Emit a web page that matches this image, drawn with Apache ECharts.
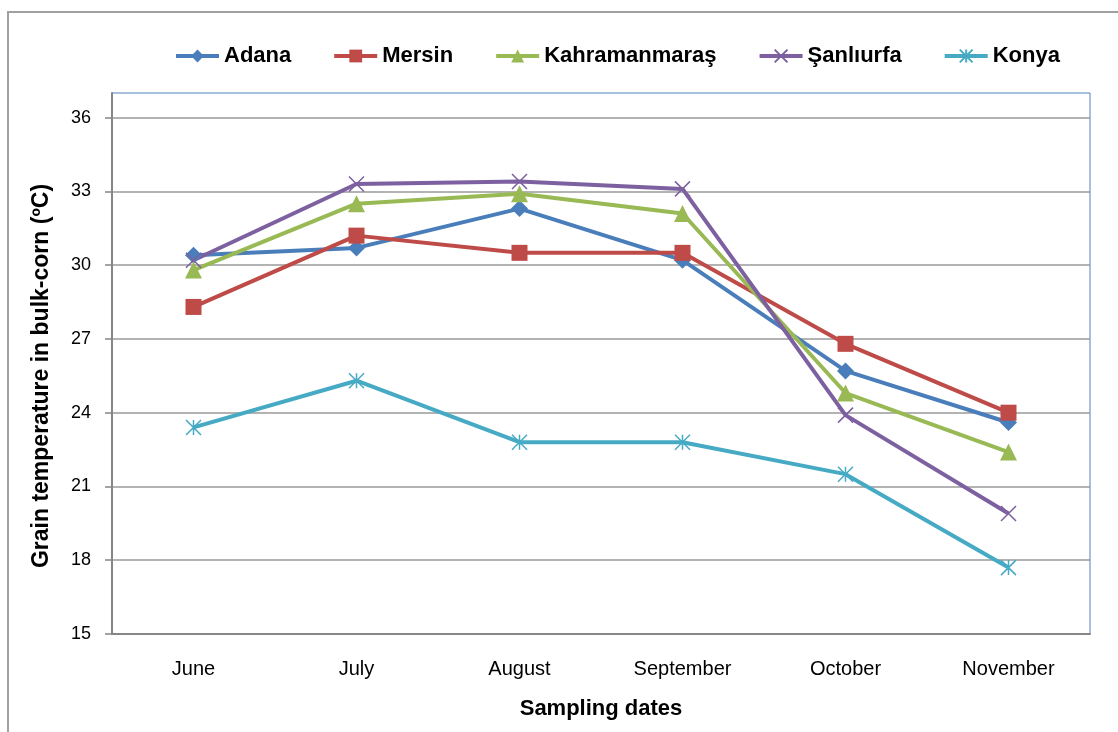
<!DOCTYPE html>
<html>
<head>
<meta charset="utf-8">
<script src="https://cdn.jsdelivr.net/npm/echarts@6/dist/echarts.min.js"></script>
<style>
  html, body { margin: 0; padding: 0; background: #fff; }
  #chart { width: 1118px; height: 732px; }
</style>
</head>
<body>
<div id="chart"></div>
<script>
// sampling months
var months = ['June', 'July', 'August', 'September', 'October', 'November'];

// grain temperature (ºC)
var adana = [30.4, 30.7, 32.3, 30.2, 25.7, 23.6];
var mersin = [28.3, 31.2, 30.5, 30.5, 26.8, 24.0];
var kahramanmaras = [29.8, 32.5, 32.9, 32.1, 24.8, 22.4];
var sanliurfa = [30.2, 33.3, 33.4, 33.1, 23.9, 19.9];
var konya = [23.4, 25.3, 22.8, 22.8, 21.5, 17.7];

var yTicks = [15, 18, 21, 24, 27, 30, 33, 36];

var chartDom = document.getElementById('chart');
var myChart = echarts.init(chartDom);

var xMark = 'path://M0,0L10,10M10,0L0,10';
var starMark = 'path://M0,0L10,10M10,0L0,10M5,0L5,10';

function lineSeries(name, data, color, symbol, size, border) {
  return {
    name: name,
    type: 'line',
    data: data,
    symbol: symbol,
    symbolSize: size,
    lineStyle: { color: color, width: 4 },
    itemStyle: { color: color, borderColor: color, borderWidth: border },
    emphasis: { disabled: true }
  };
}

var option = {
  animation: false,
  textStyle: { fontFamily: 'Liberation Sans, Arial, sans-serif' },
  legend: {
    left: 169,
    top: 40,
    itemWidth: 43,
    itemHeight: 16,
    itemGap: 41,
    lineStyle: { width: 4 },
    textStyle: { fontSize: 22, fontWeight: 'bold', color: '#000' },
    data: ['Adana', 'Mersin', 'Kahramanmaraş', 'Şanlıurfa', 'Konya']
  },
  grid: {
    left: 112,
    right: 28,
    top: 93,
    bottom: 98,
    show: true,
    borderColor: '#4F81BD',
    borderWidth: 1
  },
  xAxis: {
    type: 'category',
    data: months,
    boundaryGap: true,
    axisLine: { lineStyle: { color: '#868686', width: 2 } },
    axisTick: { length: 7, lineStyle: { color: '#868686', width: 1.5 } },
    axisLabel: { color: '#000', fontSize: 20, margin: 25 },
    name: 'Sampling dates',
    nameLocation: 'middle',
    nameGap: 64,
    nameTextStyle: { color: '#000', fontSize: 22, fontWeight: 'bold' }
  },
  yAxis: {
    type: 'value',
    min: 15,
    max: 37,
    interval: 3,
    axisLine: { show: true, lineStyle: { color: '#868686', width: 2 } },
    axisTick: {
      show: true,
      length: 7,
      customValues: yTicks,
      lineStyle: { color: '#868686', width: 1.5 }
    },
    axisLabel: {
      color: '#000',
      fontSize: 18,
      margin: 21,
      customValues: yTicks
    },
    splitLine: { lineStyle: { color: '#9A9A9A', width: 1.5 } }
  },
  graphic: [
    {
      type: 'polyline',
      shape: { points: [[8, 732], [8, 12], [1118, 12]] },
      style: { stroke: '#A0A0A0', lineWidth: 2, fill: null }
    },
    {
      type: 'text',
      x: 42,
      y: 376,
      rotation: Math.PI / 2,
      style: {
        text: 'Grain temperature in bulk-corn (ºC)',
        font: 'bold 23px Liberation Sans, Arial, sans-serif',
        fill: '#000',
        align: 'center',
        verticalAlign: 'middle'
      }
    }
  ],
  series: [
    lineSeries('Adana', adana, '#4A7EBB', 'diamond', 17, 0),
    lineSeries('Mersin', mersin, '#BE4B48', 'rect', 16, 0),
    lineSeries('Kahramanmaraş', kahramanmaras, '#98B954', 'triangle', 17, 0),
    lineSeries('Şanlıurfa', sanliurfa, '#7D60A0', xMark, 15, 1.5),
    lineSeries('Konya', konya, '#46AAC5', starMark, 15, 1.5)
  ]
};

option && myChart.setOption(option);
</script>
</body>
</html>
